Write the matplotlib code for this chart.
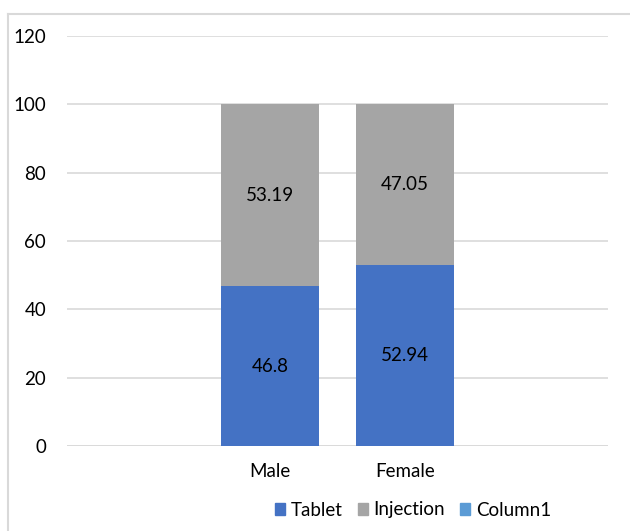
import numpy as np
import matplotlib.pyplot as plt
from matplotlib.lines import Line2D
from matplotlib.patches import Patch

plt.rcParams['font.family'] = ['Lato', 'DejaVu Sans']

# data
categories = ["", "Male", "Female", ""]
tablet = [0, 46.8, 52.94, 0]
injection = [0, 53.19, 47.05, 0]
column1 = [0, 0, 0, 0]
has_bar = [False, True, True, False]

c_tab = "#4472c4"
c_inj = "#a5a5a5"
c_col = "#5b9bd5"
grid_c = "#d9d9d9"
fs = 13.5

fig = plt.figure(figsize=(6.3, 5.31), dpi=100)
ax = fig.add_axes([67/630, 85/531, 541/630, 410/531])

x = np.arange(len(categories))
w = 0.725
tab = np.array(tablet)
inj = np.array(injection)
col = np.array(column1)
ax.bar(x, tab, w, color=c_tab, zorder=3)
ax.bar(x, inj, w, bottom=tab, color=c_inj, zorder=3)
ax.bar(x, col, w, bottom=tab + inj, color=c_col, zorder=3)

# value labels in the middle of each segment
for i in range(len(x)):
    if not has_bar[i]:
        continue
    ax.text(x[i], tab[i] / 2, f"{tablet[i]:g}", ha="center", va="center",
            fontsize=fs, color="black", zorder=4)
    ax.text(x[i], tab[i] + inj[i] / 2, f"{injection[i]:g}", ha="center", va="center",
            fontsize=fs, color="black", zorder=4)

ax.set_xlim(-0.5, len(categories) - 0.5)
ax.set_ylim(0, 120)
ax.set_yticks(range(0, 121, 20))
ax.set_xticks(x)
ax.set_xticklabels(categories)
ax.yaxis.grid(True, color=grid_c, linewidth=1.2, zorder=0)
ax.set_axisbelow(True)
for s in ax.spines.values():
    s.set_visible(False)
ax.axhline(0, color=grid_c, linewidth=1.2, zorder=1)
ax.tick_params(axis="y", length=0, pad=15, labelsize=fs)
ax.tick_params(axis="x", length=0, pad=12, labelsize=fs)

# chart border
fig.add_artist(Line2D([8/630, 8/630], [0, 1 - 14/531], color=grid_c, linewidth=1.5))
fig.add_artist(Line2D([8/630, 1], [1 - 14/531, 1 - 14/531], color=grid_c, linewidth=1.5))

handles = [Patch(color=c_tab), Patch(color=c_inj), Patch(color=c_col)]
fig.legend(handles, ["Tablet", "Injection", "Column1"], loc="center",
           bbox_to_anchor=(413/630, 21/531), ncol=3, frameon=False,
           fontsize=fs, handlelength=0.55, handleheight=0.55,
           handletextpad=0.3, columnspacing=0.8)

fig.savefig("out.png", dpi=100)
